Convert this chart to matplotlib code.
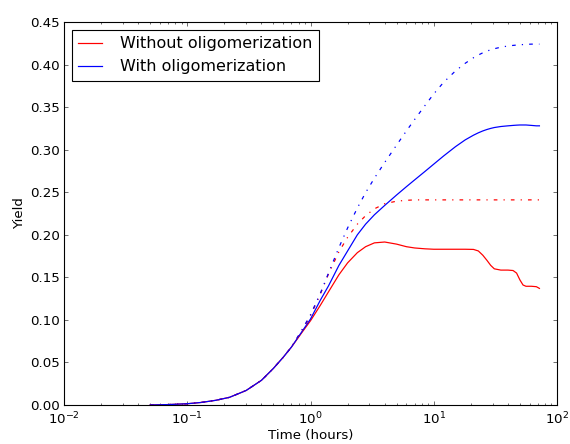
import matplotlib
matplotlib.use("Agg")
import matplotlib.pyplot as plt
from matplotlib.ticker import FormatStrFormatter

# time points (hours)
time_h = [0.05, 0.07, 0.1, 0.13, 0.17, 0.22, 0.3, 0.4, 0.5, 0.6, 0.7, 0.85,
          1.0, 1.2, 1.4, 1.7, 2.0, 2.4, 2.8, 3.3, 4.0, 5.0, 6.0, 7.0, 8.5,
          10, 12, 15, 18, 21, 23, 25, 27, 29, 31, 35, 40, 44, 47, 50, 53,
          56, 62, 68, 72]

# shared early rise (up to 0.7 h)
early = [0.0, 0.0005, 0.0015, 0.003, 0.0055, 0.009, 0.017, 0.029, 0.043,
         0.056, 0.068]

without_solid = early + [
    0.085, 0.099, 0.117, 0.133, 0.153, 0.167, 0.179, 0.186, 0.1905, 0.1915,
    0.189, 0.186, 0.1845, 0.1835, 0.183, 0.183, 0.183, 0.183, 0.1828, 0.181,
    0.176, 0.170, 0.164, 0.160, 0.1585, 0.1585, 0.158, 0.155, 0.147, 0.141,
    0.1395, 0.1395, 0.139, 0.137]

without_dashdot = early + [
    0.087, 0.105, 0.130, 0.154, 0.180, 0.197, 0.2125, 0.2225, 0.2305, 0.2365,
    0.2395, 0.2405, 0.241, 0.241, 0.241, 0.241, 0.241, 0.241, 0.241, 0.241,
    0.241, 0.241, 0.241, 0.241, 0.241, 0.241, 0.241, 0.241, 0.241, 0.241,
    0.241, 0.241, 0.241, 0.241]

with_solid = early + [
    0.086, 0.101, 0.123, 0.140, 0.164, 0.181, 0.200, 0.2125, 0.2235, 0.2345,
    0.2468, 0.2565, 0.2645, 0.2745, 0.283, 0.2925, 0.3035, 0.3115, 0.317,
    0.3198, 0.322, 0.3237, 0.325, 0.326, 0.3272, 0.328, 0.3285, 0.3288,
    0.329, 0.329, 0.329, 0.3285, 0.328, 0.328]

with_dashdot = early + [
    0.088, 0.106, 0.131, 0.155, 0.185, 0.208, 0.2315, 0.2495, 0.2665, 0.285,
    0.3055, 0.322, 0.3355, 0.352, 0.3655, 0.379, 0.3925, 0.4015, 0.408,
    0.4112, 0.4138, 0.4158, 0.4174, 0.4186, 0.4204, 0.4218, 0.4225, 0.4229,
    0.4232, 0.4235, 0.4237, 0.424, 0.424, 0.424]

DASHDOT = (3, 5, 1, 5)

fig = plt.figure(figsize=(570 / 80, 444 / 80), dpi=80)
fig.patch.set_facecolor("white")
ax = fig.add_axes([64 / 570, 39 / 444, 493 / 570, 383 / 444])

ax.plot(time_h, without_solid, color="#ff0000", lw=1.1, label="Without oligomerization")
ax.plot(time_h, with_solid, color="#0000ff", lw=1.1, label="With oligomerization")
ax.plot(time_h, without_dashdot, color="#ff0000", lw=1.1, dashes=DASHDOT)
ax.plot(time_h, with_dashdot, color="#0000ff", lw=1.1, dashes=DASHDOT)

ax.set_xscale("log")
ax.set_xlim(1e-2, 1e2)
ax.set_ylim(0, 0.45)
ax.set_yticks([i * 0.05 for i in range(10)])
ax.yaxis.set_major_formatter(FormatStrFormatter("%.2f"))

ax.tick_params(which="both", direction="in", top=True, right=True, labelsize=12)
ax.tick_params(which="major", length=4, width=0.5, pad=4)
ax.tick_params(which="minor", length=2, width=0.5)
ax.tick_params(axis="x", which="major", pad=5)
for sp in ax.spines.values():
    sp.set_linewidth(1)

ax.set_xlabel("Time (hours)", fontsize=12, labelpad=2)
ax.set_ylabel("Yield", fontsize=12, labelpad=3)

leg = ax.legend(loc="upper left", fontsize=14.4, fancybox=False, framealpha=1,
                edgecolor="black", handlelength=1.5, handletextpad=1.1,
                borderaxespad=0.5)
leg.get_frame().set_linewidth(1)

fig.savefig("out.png", dpi=80, facecolor="white")
